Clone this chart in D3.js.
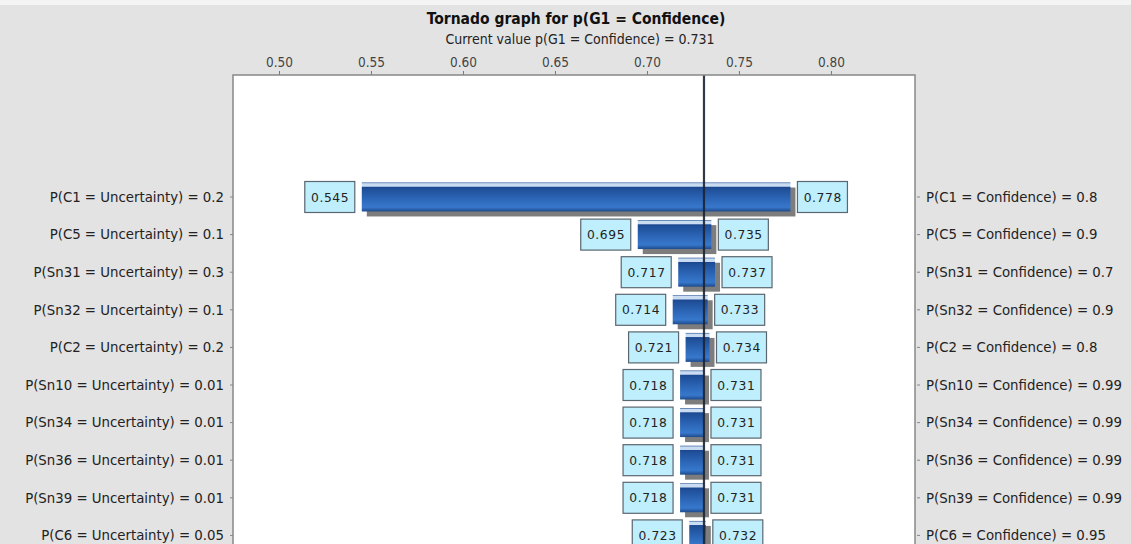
<!DOCTYPE html>
<html>
<head>
<meta charset="utf-8">
<script src="https://cdn.jsdelivr.net/npm/d3@7/dist/d3.min.js"></script>
<style>
  html, body { margin: 0; padding: 0; background: #e3e3e3; }
  svg { display: block; }
</style>
</head>
<body>
<svg id="chart" width="1131" height="544"></svg>
<script>
// ---------------- data ----------------
const titleText = "Tornado graph for p(G1 = Confidence)";
const subtitleText = "Current value p(G1 = Confidence) = 0.731";
const currentValue = 0.731;
const xTicks = [0.50, 0.55, 0.60, 0.65, 0.70, 0.75, 0.80];
const leftLabels = [
  "P(C1 = Uncertainty) = 0.2",
  "P(C5 = Uncertainty) = 0.1",
  "P(Sn31 = Uncertainty) = 0.3",
  "P(Sn32 = Uncertainty) = 0.1",
  "P(C2 = Uncertainty) = 0.2",
  "P(Sn10 = Uncertainty) = 0.01",
  "P(Sn34 = Uncertainty) = 0.01",
  "P(Sn36 = Uncertainty) = 0.01",
  "P(Sn39 = Uncertainty) = 0.01",
  "P(C6 = Uncertainty) = 0.05"
];
const rightLabels = [
  "P(C1 = Confidence) = 0.8",
  "P(C5 = Confidence) = 0.9",
  "P(Sn31 = Confidence) = 0.7",
  "P(Sn32 = Confidence) = 0.9",
  "P(C2 = Confidence) = 0.8",
  "P(Sn10 = Confidence) = 0.99",
  "P(Sn34 = Confidence) = 0.99",
  "P(Sn36 = Confidence) = 0.99",
  "P(Sn39 = Confidence) = 0.99",
  "P(C6 = Confidence) = 0.95"
];
const lowValues  = [0.545, 0.695, 0.717, 0.714, 0.721, 0.718, 0.718, 0.718, 0.718, 0.723];
const highValues = [0.778, 0.735, 0.737, 0.733, 0.734, 0.731, 0.731, 0.731, 0.731, 0.732];

const rows = leftLabels.map((l, i) => ({ left: l, right: rightLabels[i], low: lowValues[i], high: highValues[i], key: i }));

// ---------------- layout ----------------
const W = 1131, H = 544;
const plot = { left: 233, right: 915, top: 75, bottom: 575 };
const FONT = "'DejaVu Sans Condensed', 'DejaVu Sans', sans-serif";
const FONT_BOX = "'DejaVu Sans', sans-serif";
const svg = d3.select("#chart");

// light strip at very top
svg.append("rect").attr("x", 0).attr("y", 0).attr("width", W).attr("height", 5).attr("fill", "#f4f4f4");

const x = d3.scaleLinear().domain([0.475, 0.8457]).range([plot.left, plot.right]);
const step = 37.6;
const y = d3.scaleBand()
  .domain(rows.map(d => d.key))
  .range([178.2, 178.2 + step * rows.length])
  .paddingInner(0.23)
  .paddingOuter(0.115);

// gradient for bars
const defs = svg.append("defs");
const grad = defs.append("linearGradient").attr("id", "barGrad").attr("x1", 0).attr("y1", 0).attr("x2", 0).attr("y2", 1);
[
  [0.00, "#1f4c92"],
  [0.04, "#c9dcf2"],
  [0.13, "#c9dcf2"],
  [0.16, "#1b4790"],
  [0.22, "#1f4f98"],
  [0.55, "#2c65b6"],
  [0.85, "#3778cc"],
  [1.00, "#1e4a8c"]
].forEach(([o, c]) => grad.append("stop").attr("offset", o).attr("stop-color", c));

// plot background
svg.append("rect")
  .attr("x", plot.left).attr("y", plot.top)
  .attr("width", plot.right - plot.left).attr("height", plot.bottom - plot.top)
  .attr("fill", "#ffffff");

// titles
svg.append("text").attr("x", 576).attr("y", 24).attr("text-anchor", "middle")
  .style("font-family", FONT).style("font-size", "15.5px").style("font-weight", "bold")
  .attr("fill", "#111").text(titleText);
svg.append("text").attr("x", 580).attr("y", 44).attr("text-anchor", "middle")
  .style("font-family", FONT).style("font-size", "14px")
  .attr("fill", "#222").text(subtitleText);

// top axis
const xAxis = d3.axisTop(x).tickValues(xTicks).tickFormat(d3.format(".2f")).tickSize(4).tickPadding(4);
const gx = svg.append("g").attr("transform", `translate(0,${plot.top})`).call(xAxis);
gx.select(".domain").remove();
gx.selectAll(".tick line").attr("stroke", "#777");
gx.selectAll(".tick text").style("font-size", "13.5px").attr("fill", "#444").style("font-family", FONT);

// left and right category axes
const yAxisL = d3.axisLeft(y).tickFormat(i => leftLabels[i]).tickSize(3).tickPadding(6);
const gyl = svg.append("g").attr("transform", `translate(${plot.left},0)`).call(yAxisL);
gyl.select(".domain").remove();
gyl.selectAll(".tick line").attr("stroke", "#888");
gyl.selectAll(".tick text").style("font-size", "14.8px").attr("fill", "#222").style("font-family", FONT);

const yAxisR = d3.axisRight(y).tickFormat(i => rightLabels[i]).tickSize(3).tickPadding(6);
const gyr = svg.append("g").attr("transform", `translate(${plot.right + 2},0)`).call(yAxisR);
gyr.select(".domain").remove();
gyr.selectAll(".tick line").attr("stroke", "#888");
gyr.selectAll(".tick text").style("font-size", "14.8px").attr("fill", "#222").style("font-family", FONT);

// bars
const bh = y.bandwidth();
const gBars = svg.append("g");
gBars.selectAll("rect.shadow").data(rows).join("rect")
  .attr("class", "shadow")
  .attr("x", d => x(d.low) + 5).attr("y", d => y(d.key) + 5)
  .attr("width", d => x(d.high) - x(d.low)).attr("height", bh)
  .attr("fill", "#7d7d7d");
gBars.selectAll("rect.bar").data(rows).join("rect")
  .attr("class", "bar")
  .attr("x", d => x(d.low)).attr("y", d => y(d.key))
  .attr("width", d => x(d.high) - x(d.low)).attr("height", bh)
  .attr("fill", "url(#barGrad)");

// current value line
svg.append("line")
  .attr("x1", x(currentValue)).attr("x2", x(currentValue))
  .attr("y1", plot.top).attr("y2", plot.bottom)
  .attr("stroke", "#1c2433").attr("stroke-width", 2.2).attr("opacity", 0.9);

// value boxes
const boxW = 50, boxH = 31, gap = 7;
function drawBoxes(cls, xPos, val) {
  const g = svg.selectAll("g." + cls).data(rows).join("g").attr("class", cls)
    .attr("transform", d => `translate(${xPos(d)},${y(d.key) + bh / 2 - boxH / 2})`);
  g.append("rect").attr("width", boxW).attr("height", boxH)
    .attr("fill", "#bfeefd").attr("stroke", "#5a6670").attr("stroke-width", 1.2);
  g.append("text").attr("x", boxW / 2 + 0.3).attr("y", boxH / 2 + 4.5).attr("text-anchor", "middle")
    .style("font-size", "12.3px").style("font-family", FONT_BOX).style("letter-spacing", "0.6px")
    .attr("fill", "#222")
    .text(d => d3.format(".3f")(val(d)));
}
drawBoxes("lbox", d => x(d.low) - gap - boxW, d => d.low);
drawBoxes("rbox", d => x(d.high) + gap, d => d.high);

// plot border
svg.append("rect")
  .attr("x", plot.left).attr("y", plot.top)
  .attr("width", plot.right - plot.left).attr("height", plot.bottom - plot.top)
  .attr("fill", "none").attr("stroke", "#888").attr("stroke-width", 1.5);
</script>
</body>
</html>
